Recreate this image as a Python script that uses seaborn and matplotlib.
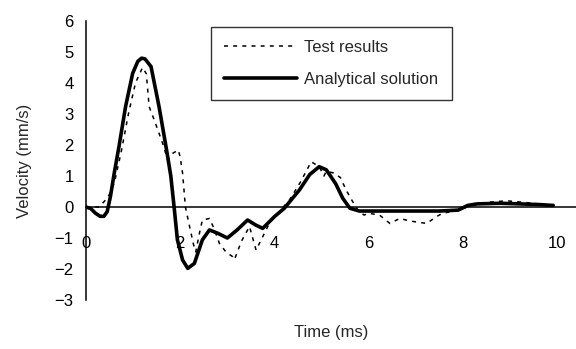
import numpy as np
import pandas as pd
import matplotlib
matplotlib.use("Agg")
import matplotlib.pyplot as plt
import seaborn as sns

# Analytical solution (time in ms, velocity in mm/s)
t_analytical = [0, 0.1, 0.2, 0.3, 0.38, 0.45, 0.52, 0.6, 0.7, 0.84, 0.99, 1.1, 1.18,
                1.25, 1.38, 1.55, 1.71, 1.8, 1.87, 1.94, 2.05, 2.16, 2.3, 2.47, 2.62,
                2.8, 3.0, 3.2, 3.43, 3.6, 3.75, 4.0, 4.21, 4.53, 4.75, 4.95, 5.1, 5.3,
                5.45, 5.6, 5.8, 6.0, 6.5, 7.0, 7.5, 7.9, 8.1, 8.3, 8.8, 9.2, 9.6, 9.92]
v_analytical = [0, -0.05, -0.2, -0.3, -0.3, -0.15, 0.35, 1.1, 1.95, 3.24, 4.31, 4.7, 4.8,
                4.78, 4.53, 3.24, 1.84, 1.0, 0.0, -1.06, -1.71, -1.98, -1.82, -1.06, -0.74,
                -0.85, -1.0, -0.75, -0.42, -0.58, -0.69, -0.31, -0.04, 0.55, 1.05, 1.3, 1.2,
                0.75, 0.28, -0.04, -0.13, -0.13, -0.13, -0.13, -0.13, -0.1, 0.05, 0.1, 0.12,
                0.1, 0.08, 0.05]

# Measured velocity
t_test = [0, 0.15, 0.28, 0.4, 0.49, 0.6, 0.75, 0.9, 1.05, 1.2, 1.28, 1.34, 1.45, 1.55,
          1.65, 1.73, 1.84, 1.96, 2.0, 2.05, 2.11, 2.18, 2.23, 2.28, 2.33, 2.4, 2.47,
          2.62, 2.72, 2.83, 2.97, 3.11, 3.15, 3.3, 3.47, 3.61, 3.75, 3.89, 4.1, 4.32,
          4.55, 4.78, 4.95, 5.05, 5.1, 5.25, 5.4, 5.52, 5.65, 5.77, 5.9, 6.0, 6.23,
          6.45, 6.66, 6.87, 7.23, 7.44, 7.57, 7.94, 8.2, 8.5, 8.93, 9.3, 9.6, 9.9]
v_test = [0, 0, 0, 0.2, 0.39, 0.77, 1.8, 3.0, 4.0, 4.5, 4.3, 3.24, 2.8, 2.38,
          1.95, 1.52, 1.73, 1.84, 1.6, 1.09, 0.0, -0.5, -0.85, -1.2, -1.45, -0.9, -0.42,
          -0.37, -0.7, -1.17, -1.45, -1.6, -1.7, -1.1, -0.63, -1.39, -0.96, -0.53, -0.15, 0.23,
          0.8, 1.46, 1.3, 1.0, 1.15, 1.1, 0.95, 0.55, 0.2, -0.1, -0.26, -0.2, -0.26,
          -0.53, -0.37, -0.45, -0.53, -0.31, -0.2, -0.1, 0.08, 0.15, 0.2, 0.15, 0.1, 0.0]

x_ticks = [0, 2, 4, 6, 8, 10]
y_ticks = [-3, -2, -1, 0, 1, 2, 3, 4, 5, 6]

sns.set_style("white")
plt.rcParams["font.family"] = ["Liberation Sans", "DejaVu Sans"]
plt.rcParams["font.size"] = 12

df_test = pd.DataFrame({"t": t_test, "v": v_test})
df_an = pd.DataFrame({"t": t_analytical, "v": v_analytical})

fig = plt.figure(figsize=(5.76, 3.49), dpi=100)
ax = fig.add_axes([86 / 576, 49 / 349, 490 / 576, 279 / 349])

sns.lineplot(data=df_test, x="t", y="v", ax=ax, color="black", linewidth=1.1,
             label="Test results", sort=False, estimator=None)
sns.lineplot(data=df_an, x="t", y="v", ax=ax, color="black", linewidth=2.6,
             label="Analytical solution", sort=False, estimator=None)
ax.lines[0].set_dashes((2.6, 3.4))

ax.set_xlim(0, 10.4)
ax.set_ylim(-3, 6)
ax.set_xticks(x_ticks)
ax.set_yticks(y_ticks)
ax.set_xticklabels([str(v) for v in x_ticks])
ax.set_yticklabels([str(v).replace("-", "\u2212") for v in y_ticks])

for side in ("top", "right"):
    ax.spines[side].set_visible(False)
ax.spines["bottom"].set_position(("data", 0))
for side in ("left", "bottom"):
    ax.spines[side].set_color("black")
    ax.spines[side].set_linewidth(1.1)

ax.tick_params(axis="y", direction="in", length=6, width=1.1, color="black",
               pad=9, labelsize=12, labelcolor="black")
ax.tick_params(axis="x", direction="in", length=4.5, width=1.1, color="black",
               pad=21, labelsize=12, labelcolor="black")

ax.set_xlabel("Time (ms)", fontsize=12)
ax.set_ylabel("Velocity (mm/s)", fontsize=12)
ax.xaxis.set_label_coords(0.5, -0.09)
ax.yaxis.set_label_coords(-0.11, 0.5)

leg = ax.legend(loc="upper left", bbox_to_anchor=(0.2546, 0.9785), borderaxespad=0,
                fontsize=12, handlelength=4.4, handletextpad=0.4, borderpad=0.8,
                labelspacing=1.0, frameon=True, fancybox=False)
leg.get_frame().set_edgecolor("black")
leg.get_frame().set_linewidth(1.0)

fig.savefig("out.png", dpi=100)
